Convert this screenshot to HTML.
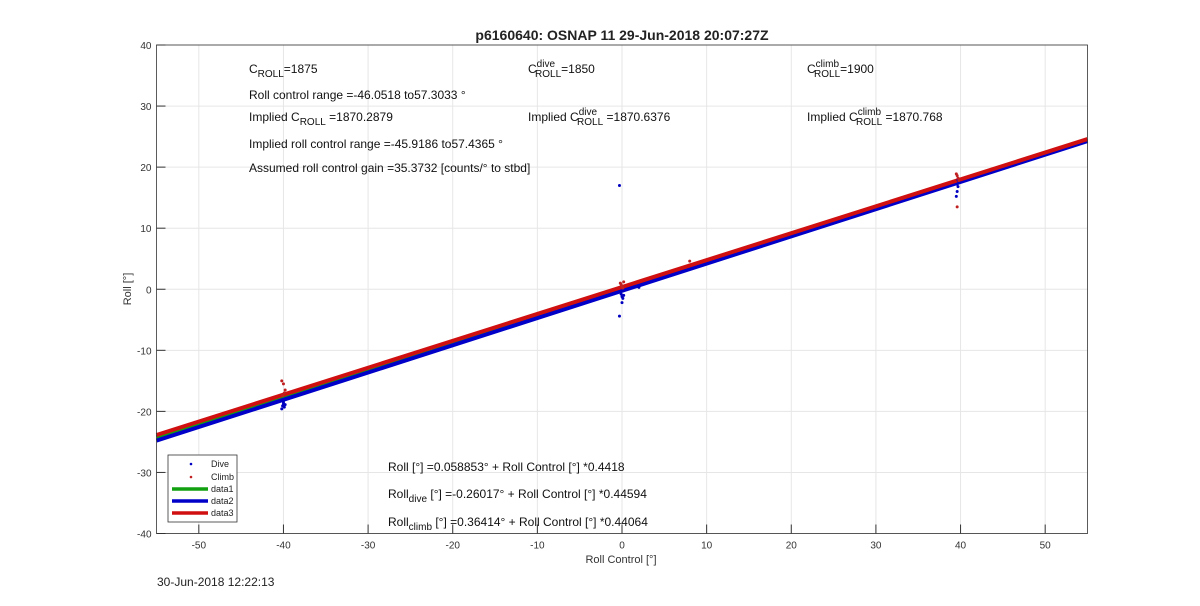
<!DOCTYPE html>
<html><head><meta charset="utf-8"><style>
body{margin:0;background:#fff;width:1200px;height:601px;overflow:hidden;font-family:"Liberation Sans",Arial,sans-serif}
svg text{font-family:"Liberation Sans",Arial,sans-serif}
</style></head><body>
<svg id="chart" width="1200" height="601" xmlns="http://www.w3.org/2000/svg">
<rect x="0" y="0" width="1200" height="601" fill="#fff"/>
<g id="grid"></g><g id="series"></g><g id="axes"></g>
<text x="622" y="40" text-anchor="middle" font-size="14" font-weight="bold" fill="#222">p6160640: OSNAP 11 29-Jun-2018 20:07:27Z</text>
<text x="621" y="563" text-anchor="middle" font-size="11" fill="#333">Roll Control [°]</text>
<text transform="translate(131,289) rotate(-90)" text-anchor="middle" font-size="11" fill="#333">Roll [°]</text>
<text x="157" y="586" font-size="12" fill="#222">30-Jun-2018 12:22:13</text>
<g font-size="12" fill="#111">
<text x="249" y="73">C<tspan dy="4" font-size="10">ROLL</tspan><tspan dy="-4">=1875</tspan></text>
<text x="249" y="99">Roll control range =-46.0518 to57.3033 °</text>
<text x="249" y="121">Implied C<tspan dy="4" font-size="10">ROLL</tspan><tspan dy="-4"> =1870.2879</tspan></text>
<text x="249" y="148">Implied roll control range =-45.9186 to57.4365 °</text>
<text x="249" y="172">Assumed roll control gain =35.3732 [counts/° to stbd]</text>
<text x="528" y="73">C<tspan dy="-6" font-size="10">dive</tspan><tspan dx="-20" dy="10" font-size="10">ROLL</tspan><tspan dy="-4">=1850</tspan></text>
<text x="528" y="121">Implied C<tspan dy="-6" font-size="10">dive</tspan><tspan dx="-20" dy="10" font-size="10">ROLL</tspan><tspan dy="-4"> =1870.6376</tspan></text>
<text x="807" y="73">C<tspan dy="-6" font-size="10">climb</tspan><tspan dx="-25" dy="10" font-size="10">ROLL</tspan><tspan dy="-4">=1900</tspan></text>
<text x="807" y="121">Implied C<tspan dy="-6" font-size="10">climb</tspan><tspan dx="-25" dy="10" font-size="10">ROLL</tspan><tspan dy="-4"> =1870.768</tspan></text>
<text x="388" y="471">Roll [°] =0.058853° + Roll Control [°] *0.4418</text>
<text x="388" y="498">Roll<tspan dy="4" font-size="10">dive</tspan><tspan dy="-4"> [°] =-0.26017° + Roll Control [°] *0.44594</tspan></text>
<text x="388" y="526">Roll<tspan dy="4" font-size="10">climb</tspan><tspan dy="-4"> [°] =0.36414° + Roll Control [°] *0.44064</tspan></text>
</g>
<g>
<rect x="168" y="455" width="69" height="67" fill="#fff" stroke="#333" stroke-width="0.8"/>
<circle cx="191" cy="464" r="1.3" fill="#0000c0"/><text x="211" y="467" font-size="9" fill="#222">Dive</text>
<circle cx="191" cy="477" r="1.3" fill="#c02020"/><text x="211" y="480" font-size="9" fill="#222">Climb</text>
<line x1="172" y1="489" x2="208" y2="489" stroke="#10a010" stroke-width="3.5"/><text x="211" y="492" font-size="9" fill="#222">data1</text>
<line x1="172" y1="501" x2="208" y2="501" stroke="#0000c8" stroke-width="3.5"/><text x="211" y="504" font-size="9" fill="#222">data2</text>
<line x1="172" y1="513" x2="208" y2="513" stroke="#d01010" stroke-width="3.5"/><text x="211" y="516" font-size="9" fill="#222">data3</text>
</g>
</svg>
<script>
const xTicks=[-50,-40,-30,-20,-10,0,10,20,30,40,50];
const yTicks=[-40,-30,-20,-10,0,10,20,30,40];
const fitNames=['data1','data2','data3'];
const fitIntercepts=[0.058853,-0.26017,0.36414];
const fitSlopes=[0.4418,0.44594,0.44064];
const fitColors=['#10a010','#0000c8','#d01010'];
const diveX=[-40.1,-40,-39.9,-40.2,-40,-39.8,-40.1,-0.2,0,0.1,-0.1,0,0.2,-0.3,2,39.6,39.7,39.5,39.8,39.6,39.7,-0.3,0];
const diveY=[-18.2,-18.8,-19.3,-19.6,-18.5,-18.9,-19.1,-0.5,-1.2,-1.5,-0.8,-2.2,-1,17,0.3,17.2,16.8,15.2,17.6,16,17.9,-4.4,-0.3];
const climbX=[-40.2,-40,-39.8,-39.9,-40.1,0,-0.2,0.2,0.1,-0.1,8,39.6,39.7,39.8,39.6,39.5];
const climbY=[-15,-15.5,-16.5,-17,-17.4,0.5,1,1.2,0.2,0.8,4.6,18.6,18.2,17.8,13.5,18.9];
const X0=156.5,X1=1087.5,Y0=533.5,Y1=45;
const sx=v=>X0+(v+55)/110*(X1-X0);
const sy=v=>Y0-(v+40)/80*(Y0-Y1);
const NS='http://www.w3.org/2000/svg';
function mk(p,t,a){const e=document.createElementNS(NS,t);for(const k in a)e.setAttribute(k,a[k]);p.appendChild(e);return e;}
const grid=document.getElementById('grid'),axes=document.getElementById('axes'),ser=document.getElementById('series');
xTicks.forEach(v=>{
 const g=mk(grid,'line',{x1:sx(v),x2:sx(v),y1:Y1,y2:Y0,stroke:'#e6e6e6','stroke-width':1});
 
 
 mk(axes,'line',{x1:sx(v),x2:sx(v),y1:Y0,y2:Y0-9,stroke:'#333'});
 const t=mk(axes,'text',{x:sx(v),y:Y0+15,'text-anchor':'middle','font-size':10,fill:'#333'});
 t.textContent=v;
 
 
});
yTicks.forEach(v=>{
 const g=mk(grid,'line',{x1:X0,x2:X1,y1:sy(v),y2:sy(v),stroke:'#e6e6e6','stroke-width':1});
 
 
 mk(axes,'line',{x1:X0,x2:X0+9,y1:sy(v),y2:sy(v),stroke:'#333'});
 const t=mk(axes,'text',{x:X0-5,y:sy(v)+4,'text-anchor':'end','font-size':10,fill:'#333'});
 t.textContent=v;
 
 
});
const fr=mk(axes,'rect',{x:X0,y:Y1,width:X1-X0,height:Y0-Y1,fill:'none',stroke:'#333','stroke-width':0.8});


fitNames.forEach((n,i)=>{
 const l=mk(ser,'line',{x1:sx(-55),y1:sy(fitIntercepts[i]+fitSlopes[i]*-55),x2:sx(55),y2:sy(fitIntercepts[i]+fitSlopes[i]*55),stroke:fitColors[i],'stroke-width':4});
 
 
});
diveX.forEach((x,i)=>{
 const c=mk(ser,'circle',{cx:sx(x),cy:sy(diveY[i]),r:1.5,fill:'#0000c0'});
 
 
});
climbX.forEach((x,i)=>{
 const c=mk(ser,'circle',{cx:sx(x),cy:sy(climbY[i]),r:1.5,fill:'#c02020'});
 
 
});
</script>
</body></html>
